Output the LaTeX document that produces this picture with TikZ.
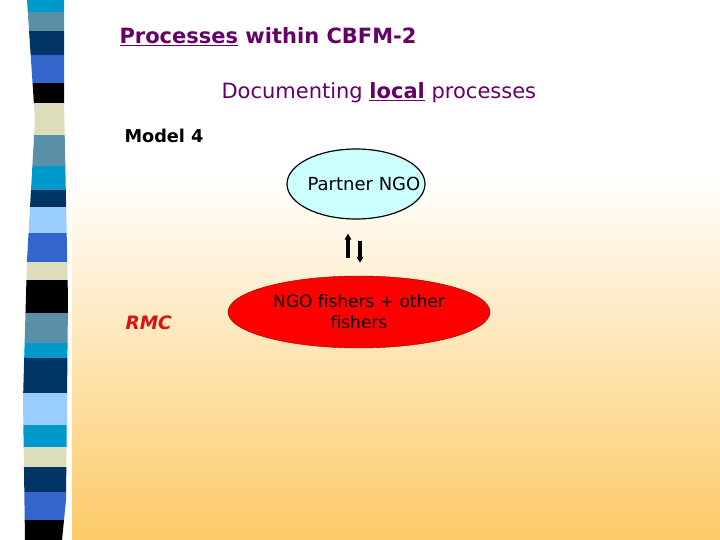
\documentclass[tikz,border=0pt]{standalone}
\usepackage{fontspec}
\setmainfont[Ligatures=NoCommon]{DejaVu Sans}
\usetikzlibrary{arrows.meta, positioning, shapes.geometric, calc}

\definecolor{slidepurple}{RGB}{102,0,102}
\definecolor{peach}{RGB}{253,202,102}
\definecolor{ngoblue}{RGB}{204,255,255}
\definecolor{rmcred}{RGB}{221,17,17}
\definecolor{stcyan}{RGB}{0,153,204}
\definecolor{ststeel}{RGB}{90,143,168}
\definecolor{stnavy}{RGB}{0,51,102}
\definecolor{stroyal}{RGB}{51,102,204}
\definecolor{stbeige}{RGB}{221,221,187}
\definecolor{stlight}{RGB}{153,204,255}

\tikzset{
  bubble/.style={ellipse, draw, inner sep=0pt, align=center},
  flow/.style={-{Triangle[width=6.5pt,length=6pt]}, line width=3.2pt},
  heading/.style={anchor=base west, text=slidepurple},
}

\begin{document}
\begin{tikzpicture}[x=1pt, y=-1pt]
  \useasboundingbox (0,0) rectangle (720,540);
  % background
  \fill[white] (0,0) rectangle (720,540);
  \shade[top color=white, bottom color=peach] (72,175) rectangle (720,540);

  % striped band on the left
  \begin{scope}
    \clip (27,0) -- (35,120) -- (27,260) -- (23,400) -- (25,540)
      -- (62,540) -- (66,500) -- (68,300) -- (64,100) -- (64,0) -- cycle;
    \foreach \ya/\yb/\c in {0/12/stcyan, 12/31/ststeel, 31/55/stnavy,
        55/83/stroyal, 83/103/black, 103/135/stbeige, 135/166/ststeel,
        166/190/stcyan, 190/207/stnavy, 207/233/stlight, 233/262/stroyal,
        262/280/stbeige, 280/313/black, 313/343/ststeel, 343/358/stcyan,
        358/393/stnavy, 393/425/stlight, 425/447/stcyan, 447/467/stbeige,
        467/492/stnavy, 492/520/stroyal, 520/540/black}
      \fill[\c] (0,\ya) rectangle (80,\yb);
  \end{scope}

  % titles
  \node[heading, font=\fontsize{21}{25}\selectfont\bfseries] (title) at (116,44)
    {\underline{Processes} within CBFM-2};
  \node[heading, font=\fontsize{21}{25}\selectfont] (sub) at (218,99)
    {Documenting \textbf{\underline{local}} processes};
  \node[anchor=base west, font=\fontsize{17.7}{21}\selectfont\bfseries] (model) at (121,143)
    {Model 4};
  \node[anchor=base west, text=rmcred, font=\fontsize{18.5}{22}\selectfont\bfseries\itshape] (rmc) at (122,329)
    {RMC};

  % model 4
  \node[bubble, fill=ngoblue, line width=1.2pt, minimum width=138pt, minimum height=70pt,
    font=\fontsize{18}{21}\selectfont] (ngo) at (356,184)
    {\makebox[0pt][c]{\hspace*{16pt}Partner NGO}};
  \node[bubble, fill=red, draw={rgb,255:red,150;green,0;blue,0}, minimum width=262pt,
    minimum height=72pt, font=\fontsize{17}{21}\selectfont] (fish) at (359,312)
    {NGO fishers + other\\fishers};

  \coordinate (upx) at (348,0);
  \coordinate (downx) at (360,0);
  \draw[flow, shorten <=18pt, shorten >=14pt] (fish.north -| upx) -- (ngo.south -| upx);
  \draw[flow, shorten <=21pt, shorten >=13pt] (ngo.south -| downx) -- (fish.north -| downx);
\end{tikzpicture}
\end{document}
